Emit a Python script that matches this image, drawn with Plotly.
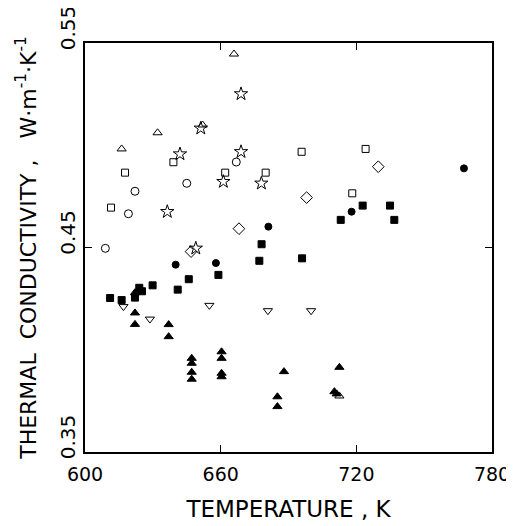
import plotly.graph_objects as go

# Data (temperature in K, conductivity in W/m/K)
open_circle_T = [609.0, 619.2, 622.1, 645.0, 666.9]
open_circle_k = [0.4496, 0.4665, 0.4775, 0.4814, 0.4918]

filled_circle_T = [640.1, 657.9, 681.1, 717.9, 767.6]
filled_circle_k = [0.4416, 0.4424, 0.4602, 0.4675, 0.4887]

open_square_T = [611.5, 617.7, 639.1, 662.0, 679.9, 695.8, 718.2, 724.1]
open_square_k = [0.4695, 0.4866, 0.4917, 0.4866, 0.4866, 0.4968, 0.4765, 0.4982]

filled_square_T = [611.1, 616.2, 622.1, 624.0, 625.2, 629.9, 641.0, 645.9,
                   659.0, 677.1, 678.1, 696.0, 713.1, 722.8, 734.9, 736.8]
filled_square_k = [0.4253, 0.4243, 0.4255, 0.4303, 0.4286, 0.4315, 0.4294, 0.4345,
                   0.4366, 0.4435, 0.4516, 0.4447, 0.4635, 0.4705, 0.4705, 0.4635]

open_tri_up_T = [616.2, 632.1, 652.0, 665.9, 712.5]
open_tri_up_k = [0.4982, 0.5061, 0.5099, 0.5446, 0.3774]

filled_tri_up_T = [622.1, 622.1, 622.1, 637.0, 637.0, 647.2, 647.2, 647.2, 647.2,
                   660.4, 660.4, 660.4, 660.4, 685.1, 685.1, 688.0, 710.3, 711.3, 712.5]
filled_tri_up_k = [0.4279, 0.4180, 0.4124, 0.4123, 0.4064, 0.3958, 0.3934, 0.3890, 0.3856,
                   0.3990, 0.3958, 0.3885, 0.3868, 0.3770, 0.3722, 0.3893, 0.3795, 0.3784, 0.3914]

open_tri_down_T = [617.0, 628.7, 655.0, 680.9, 700.0]
open_tri_down_k = [0.4211, 0.4150, 0.4217, 0.4191, 0.4191]

open_diamond_T = [646.9, 668.1, 698.0, 729.7]
open_diamond_k = [0.4480, 0.4592, 0.4744, 0.4895]

star_T = [636.4, 642.0, 649.0, 651.2, 661.2, 669.0, 669.0, 678.0]
star_k = [0.4675, 0.4957, 0.4496, 0.5083, 0.4822, 0.5251, 0.4968, 0.4814]

series = [
    (open_circle_T, open_circle_k, 'circle-open', 8),
    (filled_circle_T, filled_circle_k, 'circle', 7),
    (open_square_T, open_square_k, 'square-open', 7),
    (filled_square_T, filled_square_k, 'square', 7),
    (open_tri_up_T, open_tri_up_k, 'triangle-up-open', 8),
    (filled_tri_up_T, filled_tri_up_k, 'triangle-up', 8),
    (open_tri_down_T, open_tri_down_k, 'triangle-down-open', 8),
    (open_diamond_T, open_diamond_k, 'diamond-open', 9),
    (star_T, star_k, 'star-open', 10),
]

fig = go.Figure()
for xs, ys, sym, sz in series:
    fig.add_trace(go.Scatter(
        x=xs, y=ys, mode='markers',
        marker=dict(symbol=sym, size=sz, color='black', line=dict(color='black', width=1)),
        showlegend=False,
    ))

font_family = 'DejaVu Sans ExtraLight, DejaVu Sans, sans-serif'

# page body keeps its 8px default margin, so the figure is sized to fit inside it
fig.update_layout(
    width=506, height=518,
    margin=dict(l=77, r=22, t=35, b=74),
    paper_bgcolor='white', plot_bgcolor='white',
    font=dict(family=font_family, size=19, color='black'),
)
fig.update_xaxes(
    range=[600, 780], tickvals=[600, 660, 720, 780],
    ticks='inside', ticklen=7, tickcolor='black', mirror='ticks',
    showline=True, linecolor='black', linewidth=1.5, showgrid=False, zeroline=False,
    automargin=False, ticklabeloverflow='allow', ticklabelstandoff=4,
    title=dict(text='TEMPERATURE , K', standoff=17, font=dict(size=23)),
    tickfont=dict(size=19),
)
fig.update_yaxes(
    range=[0.35, 0.55], tickvals=[0.35, 0.45, 0.55], ticktext=['0.35', '0.45', '0.55'],
    ticks='inside', ticklen=7, tickcolor='black', mirror='ticks',
    showline=True, linecolor='black', linewidth=1.5, showgrid=False, zeroline=False,
    automargin=False, tickangle=-90, ticklabelshift=-12, ticklabelstandoff=0,
    ticklabeloverflow='allow',
    title=dict(text='THERMAL  CONDUCTIVITY ,   W·m<sup>-1</sup>·K<sup>-1</sup>',
               standoff=14, font=dict(size=22)),
    tickfont=dict(size=20),
)

fig.write_html("out.html")
